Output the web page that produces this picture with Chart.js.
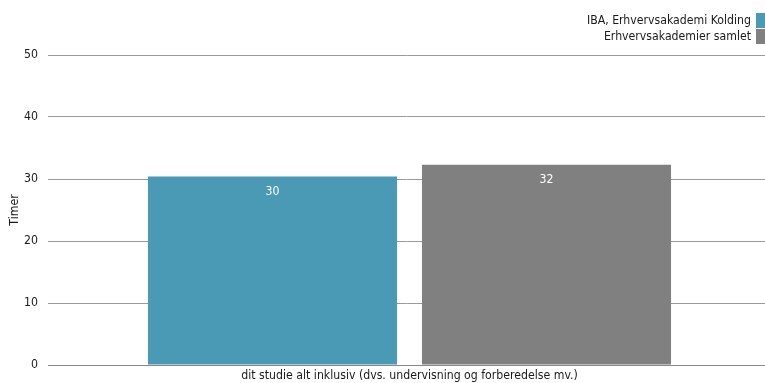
<!DOCTYPE html>
<html>
<head>
<meta charset="utf-8">
<script src="https://cdn.jsdelivr.net/npm/chart.js@4/dist/chart.umd.min.js"></script>
<style>
  html, body { margin: 0; padding: 0; background: #fff; }
  #wrap { width: 765px; height: 383px; }
</style>
</head>
<body>
<div id="wrap"><canvas id="barChart"></canvas></div>
<script>
const categories = ['dit studie alt inklusiv (dvs. undervisning og forberedelse mv.)'];
const seriesNames = ['IBA, Erhvervsakademi Kolding', 'Erhvervsakademier samlet'];
const seriesColors = ['#4a9ab6', '#808080'];
const ibaValues = [30.4];
const samletValues = [32.3];
const yTicks = [0, 10, 20, 30, 40, 50];

const FONT = 'DejaVu Sans Condensed';
const FSIZE = 12.2;

// legend in the top right corner, box to the right of the text
const cornerLegend = {
  id: 'cornerLegend',
  afterDraw(chart) {
    const ctx = chart.ctx;
    ctx.save();
    ctx.font = FSIZE + 'px "' + FONT + '"';
    ctx.textAlign = 'right';
    ctx.textBaseline = 'middle';
    chart.data.datasets.forEach((ds, i) => {
      const top = 13 + i * 16;
      ctx.fillStyle = ds.backgroundColor;
      ctx.fillRect(756, top, 9, 15);
      ctx.fillStyle = '#1a1a1a';
      ctx.fillText(ds.label, 751, top + 8);
    });
    ctx.restore();
  }
};

// the category band of the original runs a few px past the right edge
const widenX = {
  id: 'widenX',
  afterLayout(chart) {
    const x = chart.scales.x;
    x.right = chart.chartArea.right + 6;
    x.width = x.right - x.left;
    x.configure();
  }
};

// value labels inside the top of each bar
const barValues = {
  id: 'barValues',
  afterDatasetsDraw(chart) {
    const ctx = chart.ctx;
    ctx.save();
    ctx.font = FSIZE + 'px "' + FONT + '"';
    ctx.fillStyle = '#fff';
    ctx.textAlign = 'center';
    ctx.textBaseline = 'middle';
    chart.data.datasets.forEach((ds, i) => {
      chart.getDatasetMeta(i).data.forEach((bar, j) => {
        ctx.fillText(Math.round(ds.data[j]), bar.x, bar.y + 15);
      });
    });
    ctx.restore();
  }
};

new Chart(document.getElementById('barChart'), {
  type: 'bar',
  data: {
    labels: categories,
    datasets: [
      { label: seriesNames[0], data: ibaValues, backgroundColor: seriesColors[0] },
      { label: seriesNames[1], data: samletValues, backgroundColor: seriesColors[1] }
    ]
  },
  plugins: [widenX, cornerLegend, barValues],
  options: {
    responsive: true,
    maintainAspectRatio: false,
    animation: false,
    layout: { padding: { top: 55, right: 0, left: 8, bottom: 0 } },
    datasets: { bar: { categoryPercentage: 0.758, barPercentage: 0.909 } },
    plugins: {
      legend: { display: false },
      tooltip: { enabled: false }
    },
    scales: {
      x: {
        afterFit(axis) { axis.height = 18; },
        grid: { display: false, drawTicks: false },
        border: { display: true, color: '#888', width: 1 },
        ticks: { color: '#1a1a1a', font: { family: FONT, size: FSIZE }, padding: 4 }
      },
      y: {
        min: 0,
        max: 50,
        afterBuildTicks(axis) { axis.ticks = yTicks.map(v => ({ value: v })); },
        afterFit(axis) { axis.width = 40; },
        grid: { color: '#9a9a9a', drawTicks: false },
        border: { display: false },
        ticks: { color: '#1a1a1a', font: { family: FONT, size: FSIZE }, padding: 10 },
        title: { display: true, text: 'Timer', color: '#1a1a1a', font: { family: FONT, size: FSIZE }, padding: 0 }
      }
    }
  }
});
</script>
</body>
</html>
